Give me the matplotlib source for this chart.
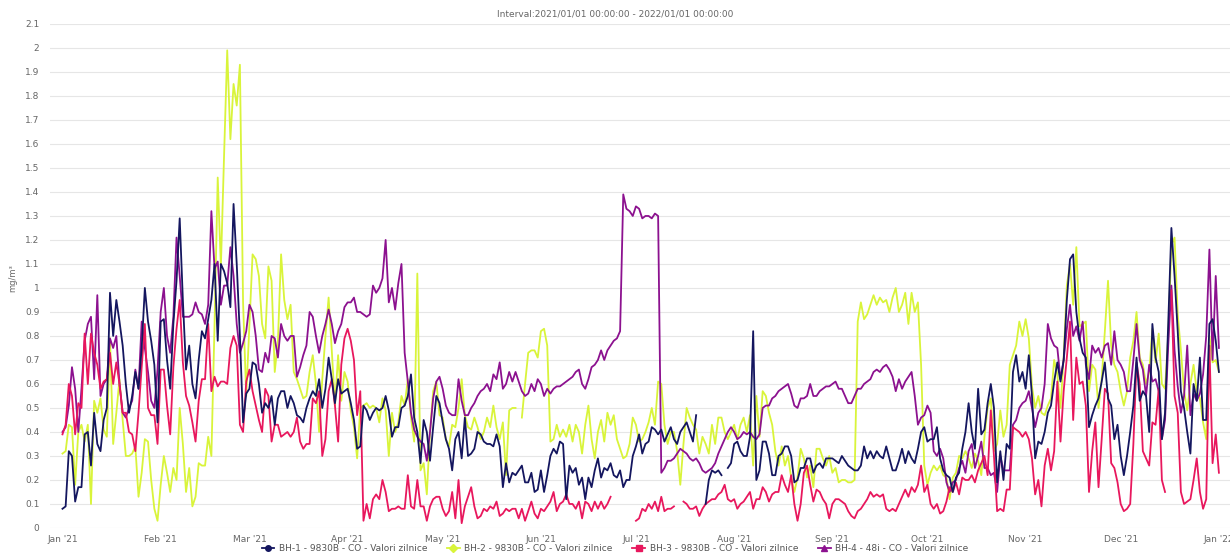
import numpy as np
import pandas as pd
import matplotlib
matplotlib.use("Agg")
import matplotlib.pyplot as plt
import matplotlib.dates as mdates
from matplotlib.lines import Line2D
from matplotlib.ticker import MultipleLocator, FuncFormatter

nan = np.nan

# daily values, 2021-01-01 .. 2022-01-01
bh1 = [
    # Jan
    0.08, 0.09, 0.32, 0.30, 0.11, 0.17, 0.17, 0.39, 0.40, 0.26, 0.48, 0.35, 0.32, 0.45, 0.50, 0.98,
    0.80, 0.95, 0.86, 0.76, 0.60, 0.48, 0.55, 0.65, 0.58, 0.75, 1.00, 0.86, 0.78, 0.68, 0.44,
    # Feb
    0.86, 0.87, 0.70, 0.58, 0.85, 1.03, 1.29, 0.95, 0.66, 0.76, 0.60, 0.54, 0.70, 0.82, 0.79, 0.87,
    0.95, 1.10, 0.78, 1.10, 1.07, 1.02, 0.92, 1.35, 1.10, 0.80, 0.44, 0.56,
    # Mar
    0.58, 0.69, 0.68, 0.60, 0.48, 0.52, 0.50, 0.55, 0.43, 0.54, 0.57, 0.57, 0.50, 0.55, 0.52, 0.47,
    0.46, 0.44, 0.50, 0.54, 0.57, 0.55, 0.62, 0.50, 0.58, 0.71, 0.62, 0.52, 0.62, 0.56, 0.57,
    # Apr
    0.58, 0.52, 0.45, 0.33, 0.34, 0.51, 0.49, 0.45, 0.48, 0.50, 0.49, 0.50, 0.55, 0.49, 0.38, 0.42,
    0.42, 0.50, 0.51, 0.55, 0.64, 0.46, 0.40, 0.27, 0.45, 0.40, 0.28, 0.42, 0.55, 0.52,
    # May
    0.44, 0.37, 0.33, 0.24, 0.37, 0.40, 0.29, 0.46, 0.30, 0.31, 0.33, 0.40, 0.39, 0.36, 0.35, 0.35,
    0.34, 0.39, 0.34, 0.17, 0.27, 0.19, 0.23, 0.22, 0.24, 0.26, 0.19, 0.19, 0.23, 0.15, 0.16,
    # Jun
    0.24, 0.15, 0.22, 0.30, 0.33, 0.31, 0.36, 0.35, 0.12, 0.26, 0.23, 0.25, 0.18, 0.21, 0.12, 0.21,
    0.17, 0.24, 0.29, 0.21, 0.25, 0.24, 0.27, 0.22, 0.21, 0.24, 0.17, 0.20, 0.20, 0.30,
    # Jul
    0.34, 0.39, 0.31, 0.35, 0.36, 0.42, 0.41, 0.39, 0.41, 0.36, 0.39, 0.42, 0.37, 0.35, 0.40, 0.42,
    0.44, 0.40, 0.36, 0.47, nan, nan, 0.10, 0.20, 0.24, 0.23, 0.24, 0.22, nan, 0.25, 0.27,
    # Aug
    0.35, 0.36, 0.32, 0.30, 0.30, 0.38, 0.82, 0.20, 0.24, 0.36, 0.36, 0.31, 0.22, 0.22, 0.30, 0.31,
    0.34, 0.34, 0.30, 0.19, 0.20, 0.25, 0.25, 0.29, 0.29, 0.23, 0.26, 0.27, 0.25, 0.29, 0.29,
    # Sep
    0.29, 0.28, 0.27, 0.30, 0.28, 0.26, 0.25, 0.24, 0.24, 0.26, 0.34, 0.29, 0.32, 0.29, 0.32, 0.30,
    0.29, 0.34, 0.29, 0.24, 0.24, 0.28, 0.33, 0.27, 0.32, 0.29, 0.27, 0.33, 0.40, 0.42,
    # Oct
    0.36, 0.37, 0.37, 0.42, 0.29, 0.24, 0.22, 0.21, 0.15, 0.21, 0.23, 0.33, 0.40, 0.52, 0.40, 0.33,
    0.58, 0.39, 0.41, 0.52, 0.60, 0.50, 0.19, 0.32, 0.20, 0.35, 0.33, 0.65, 0.72, 0.61, 0.65,
    # Nov
    0.58, 0.72, 0.55, 0.29, 0.36, 0.35, 0.40, 0.48, 0.51, 0.61, 0.69, 0.61, 0.70, 0.95, 1.12, 1.14,
    0.90, 0.79, 0.73, 0.71, 0.42, 0.47, 0.51, 0.54, 0.61, 0.69, 0.54, 0.51, 0.37, 0.43,
    # Dec
    0.30, 0.22, 0.30, 0.40, 0.51, 0.71, 0.53, 0.57, 0.55, 0.40, 0.85, 0.71, 0.65, 0.37, 0.48, 0.85,
    1.25, 1.05, 0.82, 0.57, 0.50, 0.40, 0.31, 0.60, 0.53, 0.71, 0.45, 0.45, 0.85, 0.87, 0.78,
    # Jan '22
    0.65,
]

bh2 = [
    # Jan
    0.31, 0.32, 0.43, 0.42, 0.18, 0.40, 0.43, 0.36, 0.43, 0.10, 0.53, 0.48, 0.54, 0.41, 0.38, 0.79,
    0.35, 0.48, 0.62, 0.45, 0.30, 0.30, 0.31, 0.34, 0.13, 0.23, 0.37, 0.36, 0.20, 0.08, 0.03,
    # Feb
    0.18, 0.30, 0.23, 0.15, 0.25, 0.20, 0.50, 0.35, 0.15, 0.25, 0.09, 0.13, 0.27, 0.26, 0.26, 0.38,
    0.30, 0.85, 1.46, 1.09, 1.55, 1.99, 1.62, 1.85, 1.76, 1.93, 0.94, 0.55,
    # Mar
    0.85, 1.14, 1.12, 1.05, 0.85, 0.79, 1.09, 1.03, 0.65, 0.78, 1.14, 0.95, 0.87, 0.93, 0.65, 0.62,
    0.58, 0.54, 0.55, 0.65, 0.72, 0.60, 0.40, 0.62, 0.80, 0.96, 0.74, 0.51, 0.72, 0.53, 0.65,
    # Apr
    0.61, 0.49, 0.42, 0.29, 0.50, 0.51, 0.52, 0.50, 0.51, 0.50, 0.44, 0.54, 0.49, 0.30, 0.48, 0.40,
    0.44, 0.55, 0.51, 0.62, 0.46, 0.36, 1.06, 0.24, 0.27, 0.14, 0.40, 0.57, 0.61, 0.47,
    # May
    0.46, 0.37, 0.34, 0.43, 0.42, 0.50, 0.62, 0.47, 0.42, 0.41, 0.46, 0.42, 0.37, 0.40, 0.46, 0.42,
    0.51, 0.42, 0.37, 0.44, 0.22, 0.49, 0.50, 0.50, nan, 0.46, 0.60, 0.73, 0.74, 0.74, 0.71,
    # Jun
    0.82, 0.83, 0.76, 0.36, 0.37, 0.43, 0.38, 0.41, 0.38, 0.43, 0.36, 0.43, 0.40, 0.31, 0.43, 0.51,
    0.37, 0.29, 0.40, 0.45, 0.36, 0.48, 0.43, 0.47, 0.37, 0.33, 0.29, 0.30, 0.35, 0.46,
    # Jul
    0.43, 0.36, 0.37, 0.40, 0.44, 0.50, 0.43, 0.61, 0.60, 0.43, 0.35, 0.40, 0.40, 0.32, 0.18, 0.35,
    0.50, 0.46, 0.43, 0.41, 0.31, 0.38, 0.35, 0.31, 0.43, 0.35, 0.46, 0.46, 0.40, 0.37, 0.40,
    # Aug
    0.43, 0.37, 0.43, 0.46, 0.40, 0.47, 0.26, 0.55, 0.38, 0.57, 0.55, 0.48, 0.43, 0.32, 0.26, 0.34,
    0.26, 0.30, 0.21, 0.15, 0.21, 0.33, 0.29, 0.21, 0.26, 0.17, 0.33, 0.33, 0.29, 0.26, 0.30,
    # Sep
    0.23, 0.25, 0.19, 0.20, 0.20, 0.19, 0.19, 0.20, 0.86, 0.94, 0.87, 0.89, 0.93, 0.97, 0.93, 0.96,
    0.94, 0.95, 0.90, 0.96, 1.00, 0.90, 0.93, 0.98, 0.85, 0.98, 0.90, 0.94, 0.68, 0.26,
    # Oct
    0.18, 0.23, 0.26, 0.24, 0.26, 0.22, 0.21, 0.12, 0.21, 0.23, 0.30, 0.29, 0.32, 0.29, 0.25, 0.31,
    0.28, 0.22, 0.38, 0.50, 0.54, 0.32, 0.35, 0.49, 0.38, 0.43, 0.68, 0.72, 0.76, 0.86, 0.80,
    # Nov
    0.87, 0.79, 0.59, 0.50, 0.55, 0.48, 0.47, 0.51, 0.54, 0.70, 0.64, 0.50, 0.71, 1.01, 1.10, 0.93,
    1.17, 0.84, 0.85, 0.86, 0.57, 0.68, 0.66, 0.50, 0.62, 0.82, 1.03, 0.76, 0.68, 0.65,
    # Dec
    0.57, 0.51, 0.57, 0.71, 0.78, 0.90, 0.71, 0.68, 0.60, 0.65, 0.83, 0.69, 0.81, 0.60, 0.58, 0.80,
    1.18, 1.21, 0.89, 0.74, 0.57, 0.49, 0.60, 0.68, 0.57, 0.54, 0.44, 0.37, 0.80, 0.69, 0.70,
    # Jan '22
    0.65,
]

bh3 = [
    # Jan
    0.39, 0.43, 0.60, 0.55, 0.39, 0.52, 0.50, 0.81, 0.60, 0.81, 0.73, 0.68, 0.58, 0.61, 0.62, 0.73,
    0.60, 0.69, 0.60, 0.48, 0.48, 0.40, 0.39, 0.32, 0.48, 0.67, 0.85, 0.50, 0.47, 0.47, 0.35,
    # Feb
    0.66, 0.66, 0.51, 0.39, 0.67, 0.83, 0.95, 0.69, 0.55, 0.51, 0.44, 0.36, 0.53, 0.62, 0.62, 0.85,
    0.57, 0.63, 0.59, 0.61, 0.61, 0.60, 0.75, 0.80, 0.76, 0.43, 0.40, 0.61,
    # Mar
    0.66, 0.57, 0.51, 0.45, 0.40, 0.58, 0.55, 0.36, 0.43, 0.43, 0.38, 0.39, 0.40, 0.38, 0.40, 0.46,
    0.36, 0.33, 0.35, 0.35, 0.54, 0.52, 0.57, 0.30, 0.37, 0.57, 0.62, 0.51, 0.36, 0.68, 0.79,
    # Apr
    0.83, 0.78, 0.70, 0.47, 0.57, 0.03, 0.10, 0.04, 0.12, 0.14, 0.12, 0.20, 0.15, 0.07, 0.08, 0.08,
    0.09, 0.08, 0.08, 0.22, 0.09, 0.08, 0.20, 0.09, 0.09, 0.03, 0.09, 0.12, 0.13, 0.13,
    # May
    0.08, 0.05, 0.07, 0.15, 0.04, 0.20, 0.02, 0.09, 0.13, 0.17, 0.09, 0.04, 0.05, 0.08, 0.07, 0.09,
    0.08, 0.11, 0.05, 0.06, 0.08, 0.07, 0.08, 0.08, 0.04, 0.08, 0.03, 0.07, 0.11, 0.06, 0.04,
    # Jun
    0.08, 0.07, 0.09, 0.11, 0.15, 0.07, 0.10, 0.11, 0.14, 0.10, 0.10, 0.08, 0.11, 0.04, 0.11, 0.10,
    0.07, 0.11, 0.08, 0.11, 0.08, 0.10, 0.13, nan, nan, nan, nan, nan, nan, nan,
    # Jul
    0.03, 0.04, 0.08, 0.07, 0.10, 0.08, 0.11, 0.07, 0.13, 0.07, 0.08, 0.08, 0.09, nan, nan, 0.11,
    0.10, 0.08, 0.08, 0.09, 0.05, 0.08, 0.10, 0.11, 0.12, 0.12, 0.14, 0.15, 0.18, 0.12, 0.11,
    # Aug
    0.12, 0.08, 0.10, 0.11, 0.13, 0.15, 0.08, 0.12, 0.12, 0.17, 0.15, 0.11, 0.14, 0.15, 0.15, 0.22,
    0.18, 0.15, 0.22, 0.10, 0.03, 0.10, 0.23, 0.26, 0.18, 0.11, 0.16, 0.15, 0.12, 0.10, 0.04,
    # Sep
    0.10, 0.12, 0.12, 0.11, 0.10, 0.07, 0.05, 0.04, 0.07, 0.08, 0.10, 0.12, 0.15, 0.13, 0.14, 0.13,
    0.14, 0.08, 0.07, 0.08, 0.07, 0.10, 0.13, 0.16, 0.13, 0.17, 0.15, 0.18, 0.26, 0.15,
    # Oct
    0.18, 0.10, 0.08, 0.10, 0.06, 0.07, 0.11, 0.17, 0.15, 0.19, 0.14, 0.21, 0.20, 0.20, 0.22, 0.19,
    0.24, 0.27, 0.30, 0.22, 0.49, 0.30, 0.07, 0.08, 0.07, 0.16, 0.16, 0.42, 0.41, 0.40, 0.38,
    # Nov
    0.40, 0.37, 0.29, 0.14, 0.20, 0.09, 0.26, 0.33, 0.24, 0.32, 0.61, 0.36, 0.57, 0.71, 0.86, 0.45,
    0.71, 0.60, 0.61, 0.51, 0.15, 0.32, 0.44, 0.17, 0.37, 0.58, 0.56, 0.27, 0.25, 0.19,
    # Dec
    0.10, 0.07, 0.08, 0.10, 0.35, 0.69, 0.60, 0.32, 0.29, 0.26, 0.44, 0.43, 0.58, 0.20, 0.15, nan,
    0.99, 0.55, 0.48, 0.15, 0.10, 0.11, 0.12, 0.20, 0.29, 0.15, 0.08, 0.12, 0.76, 0.27, 0.39,
    # Jan '22
    0.23,
]

bh4 = [
    # Jan
    0.40, 0.42, 0.51, 0.67, 0.58, 0.40, 0.58, 0.78, 0.85, 0.88, 0.62, 0.97, 0.55, 0.60, 0.62, 0.79,
    0.75, 0.80, 0.60, 0.48, 0.46, 0.50, 0.53, 0.66, 0.58, 0.86, 0.75, 0.65, 0.53, 0.50, 0.66,
    # Feb
    0.90, 1.00, 0.80, 0.73, 0.88, 1.21, 1.05, 0.88, 0.88, 0.88, 0.89, 0.94, 0.90, 0.89, 0.85, 0.93,
    1.32, 1.08, 1.11, 0.93, 1.01, 1.01, 1.17, 1.05, 0.85, 0.73, 0.77, 0.82,
    # Mar
    0.93, 0.90, 0.80, 0.66, 0.65, 0.73, 0.69, 0.80, 0.79, 0.71, 0.85, 0.80, 0.78, 0.80, 0.80, 0.63,
    0.67, 0.72, 0.76, 0.90, 0.88, 0.80, 0.73, 0.80, 0.85, 0.91, 0.85, 0.77, 0.82, 0.85, 0.92,
    # Apr
    0.94, 0.94, 0.96, 0.90, 0.90, 0.89, 0.88, 0.89, 1.01, 0.98, 1.00, 1.04, 1.20, 0.94, 1.00, 0.91,
    1.02, 1.10, 0.73, 0.61, 0.48, 0.41, 0.38, 0.36, 0.35, 0.28, 0.40, 0.54, 0.61, 0.63,
    # May
    0.58, 0.51, 0.48, 0.47, 0.47, 0.62, 0.53, 0.47, 0.47, 0.50, 0.52, 0.55, 0.57, 0.58, 0.60, 0.57,
    0.64, 0.62, 0.69, 0.58, 0.60, 0.65, 0.61, 0.65, 0.61, 0.57, 0.55, 0.56, 0.60, 0.57, 0.62,
    # Jun
    0.60, 0.55, 0.58, 0.56, 0.58, 0.59, 0.59, 0.60, 0.61, 0.62, 0.63, 0.65, 0.66, 0.60, 0.58, 0.62,
    0.67, 0.68, 0.70, 0.74, 0.70, 0.74, 0.76, 0.78, 0.79, 0.82, 1.39, 1.33, 1.32, 1.30,
    # Jul
    1.34, 1.33, 1.29, 1.30, 1.30, 1.29, 1.31, 1.30, 0.23, 0.25, 0.28, 0.28, 0.29, 0.31, 0.33, 0.32,
    0.31, 0.29, 0.28, 0.29, 0.27, 0.24, 0.23, 0.24, 0.25, 0.27, 0.31, 0.34, 0.37, 0.40, 0.42,
    # Aug
    0.40, 0.37, 0.38, 0.40, 0.39, 0.40, 0.38, 0.37, 0.39, 0.50, 0.51, 0.51, 0.54, 0.55, 0.57, 0.58,
    0.59, 0.60, 0.56, 0.51, 0.50, 0.54, 0.54, 0.55, 0.60, 0.55, 0.55, 0.57, 0.58, 0.59, 0.59,
    # Sep
    0.60, 0.61, 0.58, 0.58, 0.55, 0.52, 0.52, 0.55, 0.58, 0.58, 0.60, 0.61, 0.62, 0.65, 0.66, 0.65,
    0.67, 0.68, 0.66, 0.63, 0.57, 0.62, 0.58, 0.61, 0.63, 0.65, 0.55, 0.43, 0.46, 0.47,
    # Oct
    0.51, 0.48, 0.32, 0.30, 0.33, 0.29, 0.19, 0.15, 0.19, 0.20, 0.25, 0.28, 0.23, 0.32, 0.35, 0.25,
    0.30, 0.36, 0.25, 0.25, 0.22, 0.23, 0.15, 0.30, 0.24, 0.24, 0.24, 0.43, 0.45, 0.50, 0.52,
    # Nov
    0.53, 0.57, 0.50, 0.42, 0.48, 0.50, 0.60, 0.85, 0.79, 0.76, 0.75, 0.62, 0.70, 0.83, 0.93, 0.80,
    0.84, 0.78, 0.86, 0.68, 0.62, 0.76, 0.73, 0.75, 0.71, 0.76, 0.77, 0.68, 0.82, 0.70,
    # Dec
    0.68, 0.65, 0.57, 0.57, 0.70, 0.85, 0.70, 0.66, 0.55, 0.68, 0.61, 0.62, 0.57, 0.37, 0.45, 0.76,
    1.01, 0.74, 0.59, 0.48, 0.55, 0.76, 0.47, 0.56, 0.53, 0.56, 0.64, 0.80, 1.16, 0.70, 1.05,
    # Jan '22
    0.75,
]

labels = [
    "BH-1 - 9830B - CO - Valori zilnice",
    "BH-2 - 9830B - CO - Valori zilnice",
    "BH-3 - 9830B - CO - Valori zilnice",
    "BH-4 - 48i - CO - Valori zilnice",
]
colors = ["#14165f", "#d9f43a", "#e8175d", "#8c118f"]
markers = ["o", "D", "s", "^"]

days = pd.date_range("2021-01-01", periods=len(bh1), freq="D")

fig = plt.figure(figsize=(12.3, 5.56), dpi=100)
ax = fig.add_axes([0.041, 0.0504, 0.959, 0.9065])

# draw order: yellow at back
for vals, col in zip([bh2, bh4, bh3, bh1], [colors[1], colors[3], colors[2], colors[0]]):
    ax.plot(days, vals, color=col, lw=1.3, solid_joinstyle="round")

ax.set_ylim(0, 2.1)
ax.set_xlim(pd.Timestamp("2021-01-01") - pd.Timedelta(days=3.8),
            pd.Timestamp("2021-01-01") + pd.Timedelta(days=368.5))
ax.yaxis.set_major_locator(MultipleLocator(0.1))
ax.yaxis.set_major_formatter(FuncFormatter(lambda v, p: f"{round(v, 1):g}"))
ax.xaxis.set_major_locator(mdates.MonthLocator())
ax.xaxis.set_major_formatter(mdates.DateFormatter("%b '%y"))

ax.grid(axis="y", color="#e6e6e6", lw=0.8)
ax.set_axisbelow(True)
for s in ax.spines.values():
    s.set_visible(False)
ax.tick_params(length=0, labelsize=6.5, labelcolor="#666666")
ax.tick_params(axis="y", pad=8)
ax.tick_params(axis="x", pad=5)

fig.text(0.010, 0.5, "mg/m³", rotation=90, fontsize=6, color="#666666", va="center", ha="center")
fig.text(0.5, 0.974, "Interval:2021/01/01 00:00:00 - 2022/01/01 00:00:00",
         fontsize=6.5, color="#666666", ha="center", va="center")

handles = [Line2D([0], [0], color=c, lw=1.3, marker=m, markersize=4) for c, m in zip(colors, markers)]
fig.legend(handles, labels, loc="center", bbox_to_anchor=(0.5, 0.013), ncol=4, frameon=False,
           fontsize=6.5, labelcolor="#555555", handlelength=1.4, columnspacing=2.2, handletextpad=0.5)

fig.savefig("out.png", dpi=100)
